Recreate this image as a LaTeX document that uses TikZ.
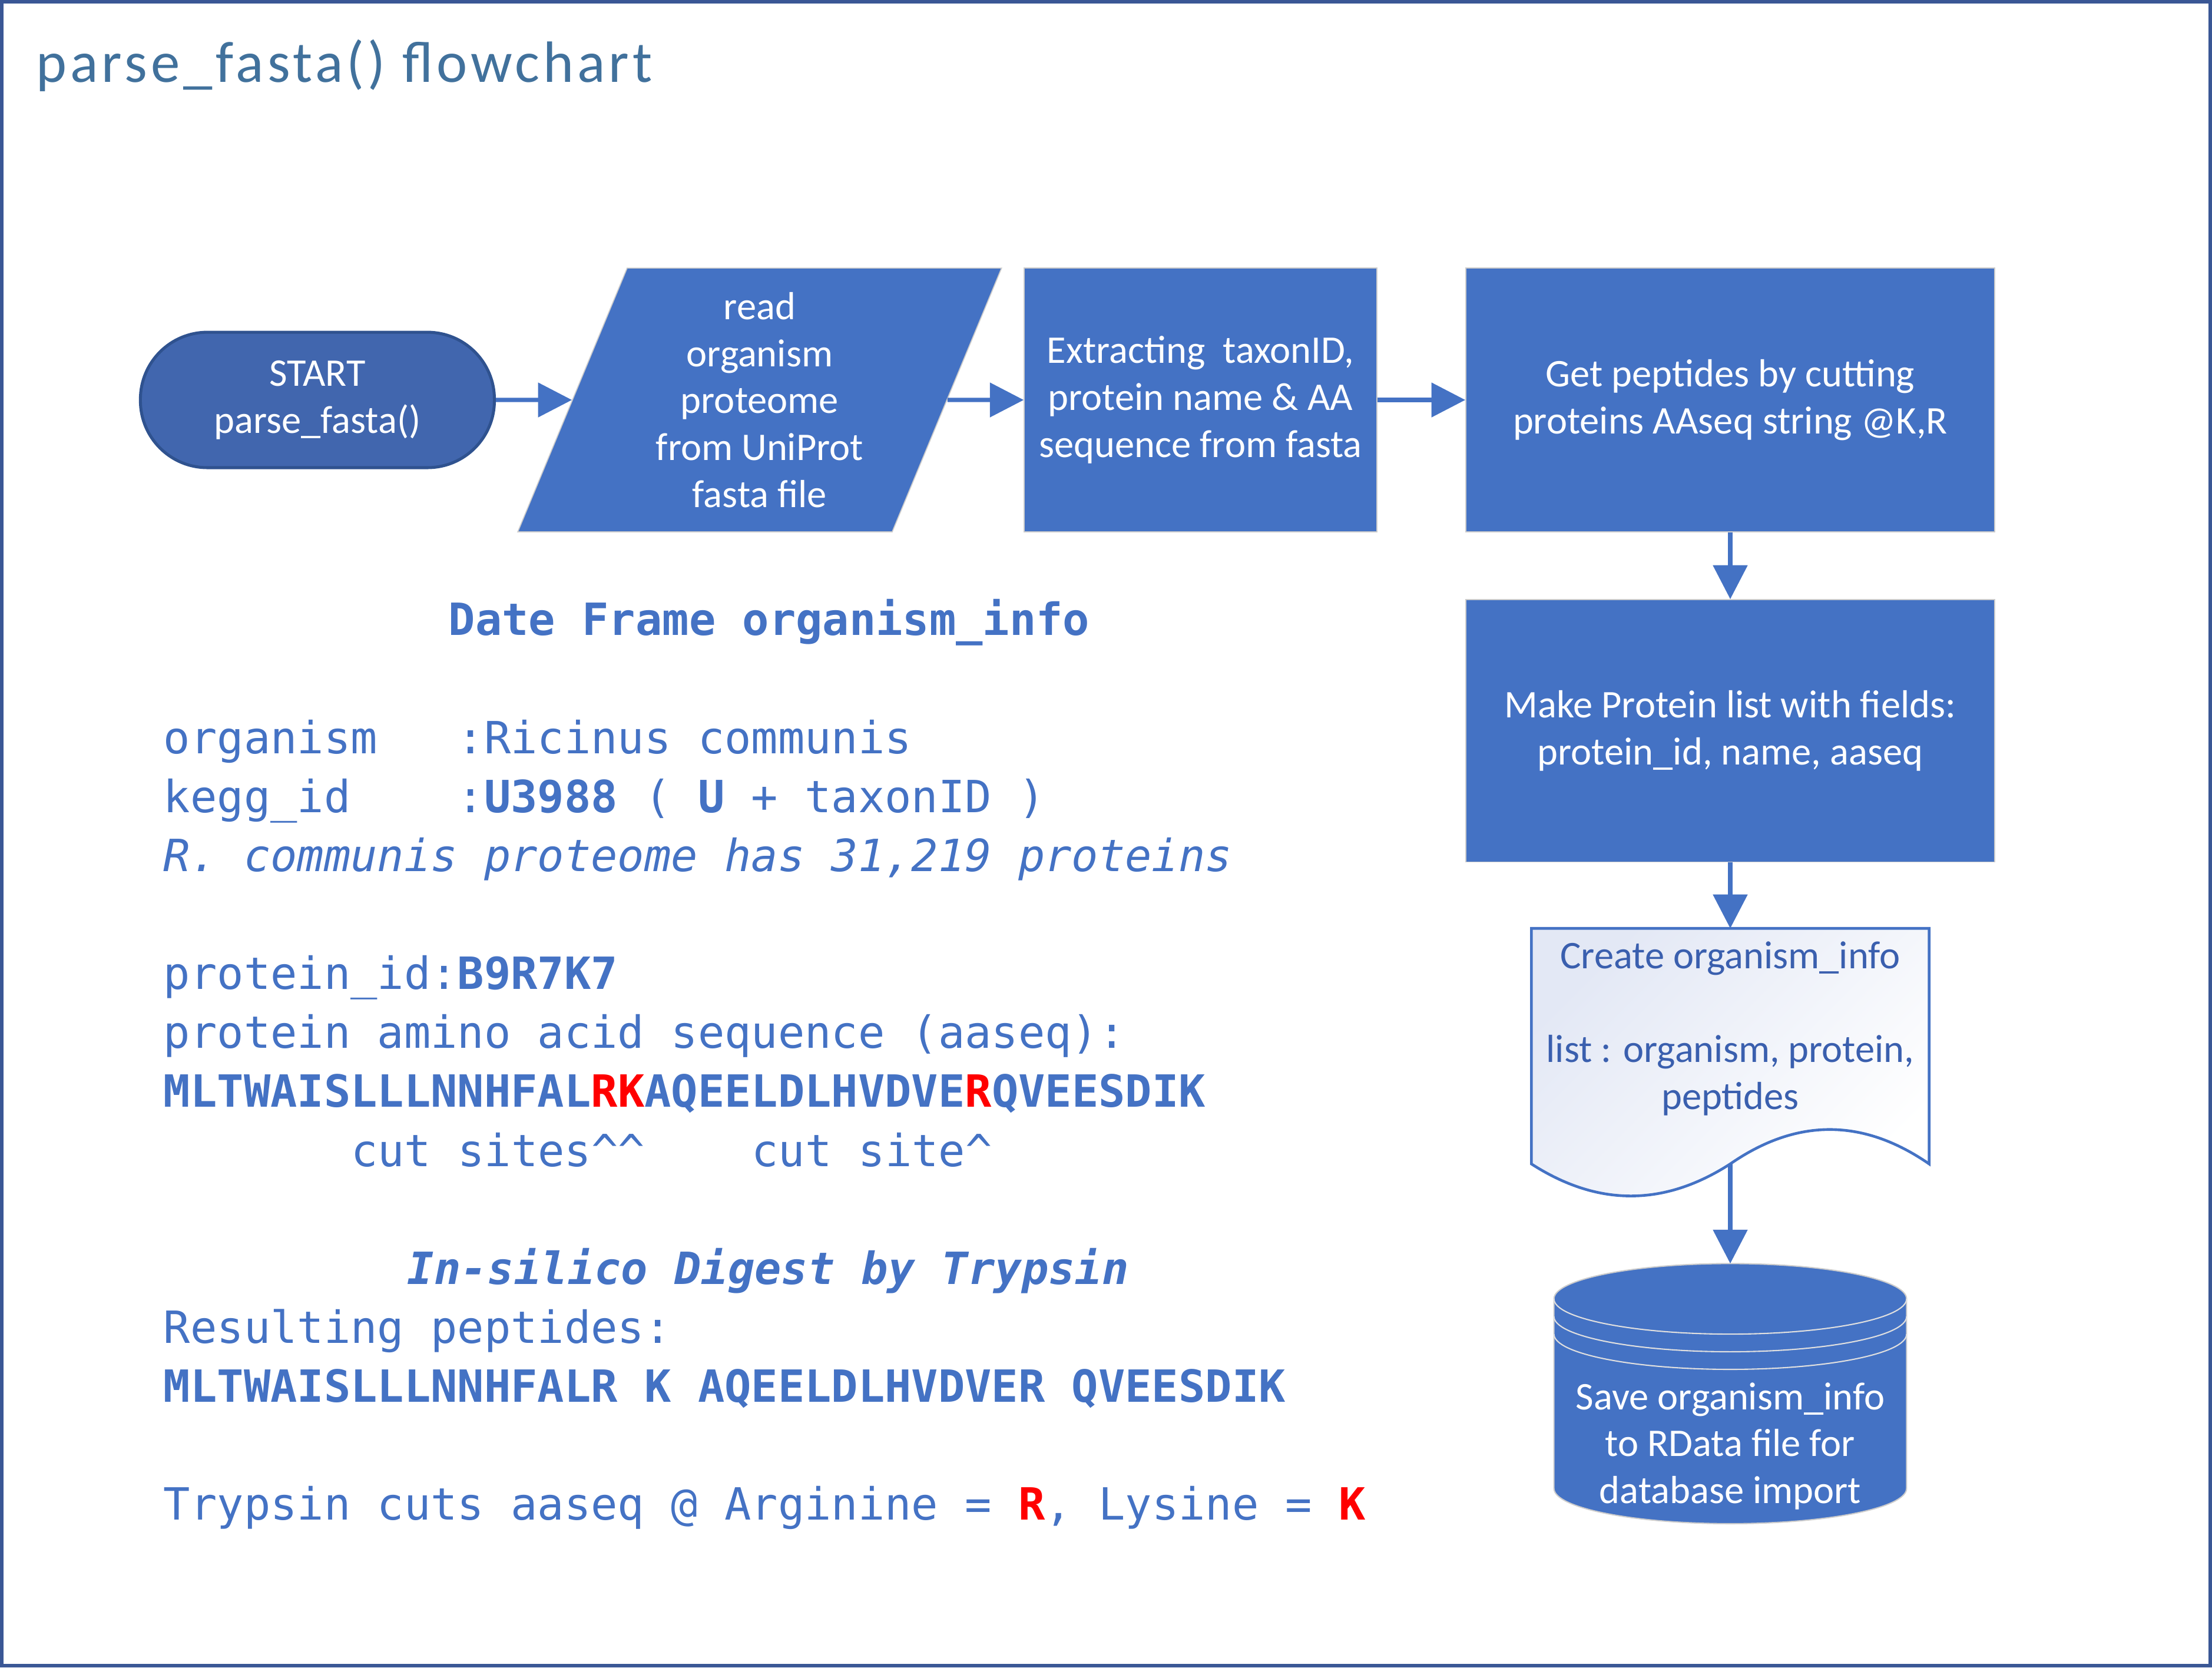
\documentclass[tikz,border=0pt]{standalone}
\usepackage{fontspec}
\setmainfont{Carlito}
\setmonofont{DejaVu Sans Mono}
\newfontfamily\titlefont{Carlito}[LetterSpace = 6.0]
\usepackage{xcolor}
\usetikzlibrary{shapes.geometric, arrows.meta, calc}

\definecolor{boxblue}{HTML}{4472C4}
\definecolor{startblue}{HTML}{4166AE}
\definecolor{startedge}{HTML}{2F528F}
\definecolor{titleblue}{HTML}{41719C}
\definecolor{frameblue}{HTML}{3A5795}
\definecolor{docblue}{HTML}{3A5FAE}
\definecolor{docshade}{HTML}{E3E8F5}
\definecolor{cutred}{HTML}{FF0000}

\newcommand{\cutsite}[1]{\textcolor{cutred}{#1}}

\tikzset{
	boxtext/.style = {font = \fontsize{15.8}{18.95}\selectfont, text = white, align = center},
	process/.style = {boxtext, rectangle, fill = boxblue, draw = gray!40, line width = 0.4pt, inner sep = 0pt},
	terminal/.style = {boxtext, rectangle, rounded corners = 0.95cm, fill = startblue, draw = startedge, line width = 1.2pt, minimum width = 5.02cm, minimum height = 1.92cm},
	inout/.style = {boxtext, trapezium, trapezium left angle = 63.6, trapezium right angle = 116.4, trapezium stretches body, fill = boxblue, draw = gray!40, line width = 0.4pt, inner sep = 1pt, minimum width = 6.86cm, minimum height = 3.74cm},
	docline/.style = {draw = boxblue, line width = 1.1pt, top color = docshade, bottom color = white, shading angle = 45},
	dbline/.style = {draw = gray!25, line width = 0.5pt},
	flowarrow/.style = {boxblue, line width = 1.7pt, -{Triangle[length = 0.48cm, width = 0.48cm]}},
	codeline/.style = {anchor = base west, inner sep = 0pt, text = boxblue, font = \ttfamily\fontsize{17.9}{21.5}\selectfont}
}

\begin{document}
\begin{tikzpicture}[x = 0.02cm, y = 0.02cm]
		\useasboundingbox (0,0) rectangle (1568,1182);
		\draw [frameblue, line width = 1.4pt] (1.25,1.25) rectangle (1566.75,1180.75);
		
		\node [anchor = base west, inner sep = 0pt, text = titleblue, font = \titlefont\fontsize{23.5}{27}\selectfont] (title) at (25.5,1123.6) {parse\_fasta() flowchart};
		
		\begin{scope}
			\node [terminal] (start) at (225,898.5) {START\\parse\_fasta()};
			\node [inout] (read) at (538.5,898.5) {read\\organism\\proteome\\from UniProt\\fasta file};
			\node [process, minimum width = 5cm, minimum height = 3.74cm] (extract) at (851,898.5) {Extracting~ taxonID,\\protein name \& AA\\sequence from fasta};
			\node [process, minimum width = 7.5cm, minimum height = 3.74cm] (peptides) at (1226.5,898.5) {Get peptides by cutting\\proteins AAseq string @K,R};
			\node [process, minimum width = 7.5cm, minimum height = 3.72cm] (plist) at (1226.5,664) {Make Protein list with fields:\\protein\_id, name, aaseq};
		\end{scope}
		
		\begin{scope}
			\node [inner sep = 0pt, outer sep = 0pt, minimum width = 5.64cm, minimum height = 3.34cm] (doc) at (1226.5,440.5) {};
			\draw [docline] (doc.north west) -- (doc.north east) -- (doc.south east)
				.. controls ($(doc.south east)+(-47,32.5)$) and ($(doc.south)+(47,32.5)$) .. (doc.south)
				.. controls ($(doc.south)+(-47,-30.3)$) and ($(doc.south west)+(47,-30.3)$) .. (doc.south west) -- cycle;
			\node [boxtext, text = docblue] (doclabel) at (1226.5,453) {Create organism\_info\\[18.95pt]list : organism, protein,\\peptides};
		\end{scope}
		
		\begin{scope}
			\node [inner sep = 0pt, outer sep = 0pt, minimum width = 5cm, minimum height = 3.688cm] (db) at (1226.5,194.2) {};
			\draw [fill = boxblue, draw = gray!40, line width = 0.5pt] ($(db.north west)+(0,-25)$) arc [start angle = 180, end angle = 0, x radius = 2.5cm, y radius = 0.5cm] -- ($(db.south east)+(0,25)$) arc [start angle = 0, end angle = -180, x radius = 2.5cm, y radius = 0.5cm] -- cycle;
			\draw [dbline] ($(db.north west)+(0,-25)$) arc [start angle = 180, end angle = 360, x radius = 2.5cm, y radius = 0.5cm];
			\draw [dbline] ($(db.north west)+(0,-37.5)$) arc [start angle = 180, end angle = 360, x radius = 2.5cm, y radius = 0.5cm];
			\draw [dbline] ($(db.north west)+(0,-50)$) arc [start angle = 180, end angle = 360, x radius = 2.5cm, y radius = 0.5cm];
			\node [boxtext] (dbtext) at (1226.5,157) {Save organism\_info\\to RData file for\\database import};
		\end{scope}
		
		\begin{scope}
			\draw [flowarrow] (start) -- (read);
			\draw [flowarrow] (read) -- (extract);
			\draw [flowarrow] (extract) -- (peptides);
			\draw [flowarrow] (peptides) -- (plist);
			\draw [flowarrow] (plist) -- (doc);
			\draw [flowarrow] (doc.south) -- (db.north);
		\end{scope}
		
		\begin{scope}
			\node [codeline] (dfhead) at (317.7,731.6) {\textbf{Date Frame organism\_info}};
			\node [codeline] (orgline) at (115.7,648) {organism~~~:Ricinus communis};
			\node [codeline] (keggline) at (115.7,606.2) {kegg\_id~~~~:\textbf{U3988} ( \textbf{U} + taxonID )};
			\node [codeline] (countline) at (115.7,564.4) {\textit{R.\ communis proteome has 31,219 proteins}};
			\node [codeline] (pidline) at (115.7,480.8) {protein\_id:\textbf{B9R7K7}};
			\node [codeline] (seqhead) at (115.7,439) {protein amino acid sequence (aaseq):};
			\node [codeline] (seqline) at (115.7,397.2) {\textbf{MLTWAISLLLNNHFAL\cutsite{RK}AQEELDLHVDVE\cutsite{R}QVEESDIK}};
			\node [codeline] (cutline) at (248.5,355.4) {cut sites\textasciicircum\textasciicircum~~~~cut site\textasciicircum};
		\end{scope}
		
		\begin{scope}
			\node [codeline] (digesthead) at (288.5,271.8) {\textbf{\textit{In-silico Digest by Trypsin}}};
			\node [codeline] (resline) at (115.7,230) {Resulting peptides:};
			\node [codeline] (pepline) at (115.7,188.2) {\textbf{MLTWAISLLLNNHFALR K AQEELDLHVDVER QVEESDIK}};
			\node [codeline] (trypline) at (115.7,104.6) {Trypsin cuts aaseq @ Arginine = \cutsite{\textbf{R}}, Lysine = \cutsite{\textbf{K}}};
		\end{scope}
	\end{tikzpicture}
\end{document}
